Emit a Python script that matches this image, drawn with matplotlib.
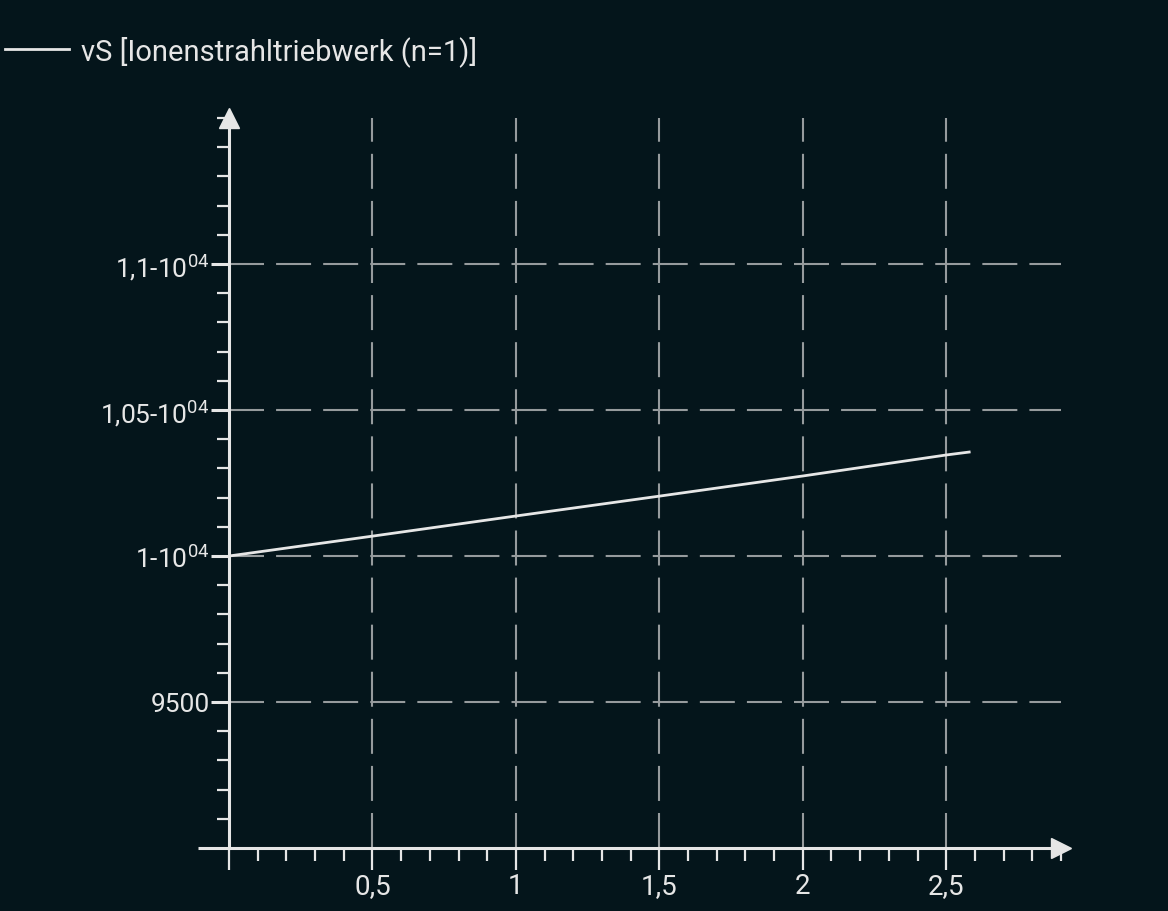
import matplotlib.pyplot as plt
from matplotlib.ticker import FixedLocator, MultipleLocator

# values
x_vals = [0, 0.5, 1.0, 1.5, 2.0, 2.5, 2.58]
vs_vals = [10000, 10068, 10137, 10205, 10274, 10346, 10356]
x_ticks = [0.5, 1.0, 1.5, 2.0, 2.5]
x_labels = ['0,5', '1', '1,5', '2', '2,5']
y_ticks = [9500, 10000, 10500, 11000]
y_labels = ['9500', r'1-10$^{04}$', r'1,05-10$^{04}$', r'1,1-10$^{04}$']
legend_label = 'vS [Ionenstrahltriebwerk (n=1)]'

bg = '#04151b'
fg = '#e6e6e6'
grid_col = '#969b9d'

plt.rcParams['font.family'] = ['Roboto', 'DejaVu Sans']
plt.rcParams['mathtext.fontset'] = 'custom'
plt.rcParams['mathtext.rm'] = 'Roboto'
plt.rcParams['mathtext.it'] = 'Roboto'

fig = plt.figure(figsize=(11.68, 9.12), dpi=100, facecolor=bg)
ax = fig.add_axes([229 / 1168, 63 / 912, 832 / 1168, 730 / 912])
ax.set_facecolor(bg)

ax.set_xlim(0, 2.9)
ax.set_ylim(9000, 11500)

line, = ax.plot(x_vals, vs_vals, color=fg, lw=2, label=legend_label, zorder=3)

for sp in ['top', 'right']:
    ax.spines[sp].set_visible(False)
for sp in ['left', 'bottom']:
    ax.spines[sp].set_color(fg)
    ax.spines[sp].set_linewidth(2.2)

# arrow heads at the axis ends
ax.plot(0, 1, marker='^', ms=14, color=fg, transform=ax.transAxes, clip_on=False)
ax.plot(1, 0, marker='>', ms=14, color=fg, transform=ax.transAxes, clip_on=False)

ax.xaxis.set_major_locator(FixedLocator([0] + x_ticks))
ax.set_xticklabels([''] + x_labels)
ax.xaxis.set_minor_locator(MultipleLocator(0.1))
ax.yaxis.set_major_locator(FixedLocator([9000] + y_ticks))
ax.set_yticklabels([''] + y_labels)
ax.yaxis.set_minor_locator(MultipleLocator(100))

ax.tick_params(axis='x', which='major', length=16, width=1.6, color=fg,
               labelcolor=fg, labelsize=20, pad=1)
ax.tick_params(axis='x', which='minor', length=9, width=1.6, color=fg)
ax.tick_params(axis='y', which='major', length=13, width=2.2, color=fg,
               labelcolor=fg, labelsize=19, pad=1)
ax.tick_params(axis='y', which='minor', length=9, width=1.6, color=fg)
# the 9000 tick reaches further left in the reference
ax.yaxis.get_major_ticks()[0].tick1line.set_markersize(22)

# dashed grid: ~35px dash, 12px gap
dash = (0, (16.8, 5.8))
for xt in x_ticks:
    ax.axvline(xt, color=grid_col, lw=1.5, ls=dash, zorder=0)
for yt in y_ticks:
    ax.axhline(yt, color=grid_col, lw=1.5, ls=dash, zorder=0)

fig.legend(handles=[line], loc='upper left', bbox_to_anchor=(-0.018, 0.989),
           frameon=False, fontsize=21, handlelength=2.2, handletextpad=0.4,
           labelcolor=fg)

fig.savefig('out.png', dpi=100, facecolor=bg)
